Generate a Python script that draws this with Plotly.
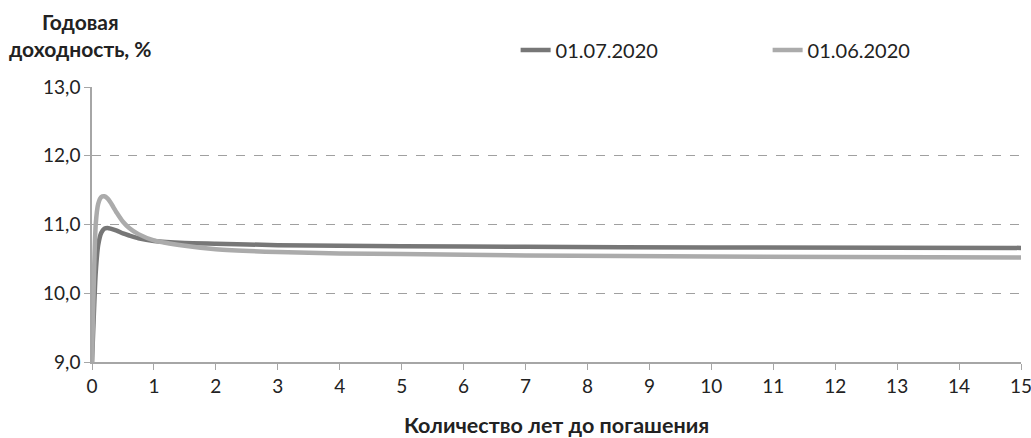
import plotly.graph_objects as go

# Maturity (years) and yields (%)
years = [0, 0.03, 0.06, 0.1, 0.15, 0.2, 0.25, 0.3, 0.4, 0.5, 0.6, 0.75, 1, 1.5, 2, 3, 4, 5, 7, 10, 15]
yield_jul = [9.0, 9.7, 10.3, 10.7, 10.88, 10.94, 10.95, 10.94, 10.91, 10.87, 10.84, 10.80, 10.76, 10.73, 10.72, 10.70, 10.69, 10.685, 10.675, 10.665, 10.66]
yield_jun = [9.0, 10.2, 11.0, 11.3, 11.4, 11.41, 11.38, 11.32, 11.17, 11.04, 10.95, 10.86, 10.77, 10.69, 10.64, 10.60, 10.58, 10.57, 10.55, 10.535, 10.52]

series_names = ["01.07.2020", "01.06.2020"]
x_ticks = list(range(0, 16))
y_ticks = [9, 10, 11, 12, 13]

FONT = "Lato, 'Open Sans', sans-serif"

fig = go.Figure()
fig.add_trace(go.Scatter(x=years, y=yield_jul, mode="lines", name=series_names[0],
                         line=dict(color="#777777", width=4.5, shape="spline", smoothing=0.6)))
fig.add_trace(go.Scatter(x=years, y=yield_jun, mode="lines", name=series_names[1],
                         line=dict(color="#ababab", width=4.5, shape="spline", smoothing=0.6)))

fig.update_layout(
    width=1031, height=438,
    margin=dict(l=92, r=10, t=87, b=76, autoexpand=False),
    paper_bgcolor="white", plot_bgcolor="white",
    separators=", ",
    font=dict(family=FONT, size=19, color="#222222"),
    legend=dict(orientation="h", x=0.456, xanchor="left", y=1.1345, yanchor="middle",
                font=dict(size=20, color="#222222"), entrywidth=207, itemwidth=30,
                bgcolor="rgba(0,0,0,0)", traceorder="normal"),
    xaxis=dict(range=[0, 15], tickvals=x_ticks, showgrid=False, zeroline=False,
               showline=True, linecolor="#a6a6a6", linewidth=1.5,
               ticks="outside", ticklen=6, tickcolor="#a6a6a6",
               tickfont=dict(size=19), ticklabeloverflow="allow",
               title=dict(text="<b>Количество лет до погашения</b>", font=dict(size=21.5), standoff=27)),
    yaxis=dict(range=[9, 13], tickvals=y_ticks, tickformat=".1f",
               showgrid=True, gridcolor="#a0a0a0", griddash="dash", gridwidth=1,
               zeroline=False, showline=True, linecolor="#a6a6a6", linewidth=1.5,
               ticks="outside", ticklen=6, tickcolor="#a6a6a6",
               tickfont=dict(size=19)),
    annotations=[dict(text="<b>Годовая<br>доходность, %</b>", xref="paper", yref="paper",
                      x=-0.012, y=1.29, xanchor="center", yanchor="top", showarrow=False,
                      align="center", font=dict(size=21, color="#222222"))],
)

fig.write_html("out.html", config={"displayModeBar": False},
               post_script="document.body.style.margin='0px';")
